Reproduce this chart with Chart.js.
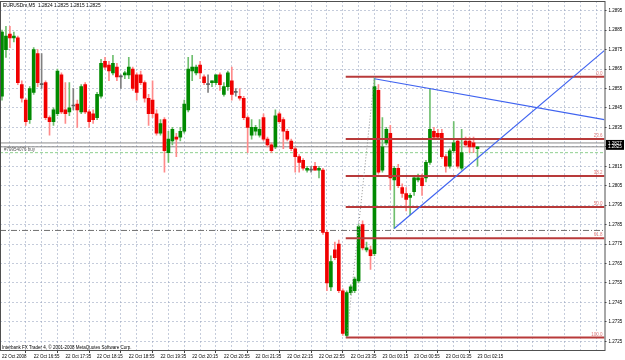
<!DOCTYPE html>
<html><head><meta charset="utf-8">
<script src="https://cdn.jsdelivr.net/npm/chart.js@4.4.0/dist/chart.umd.min.js"></script>
<style>html,body{margin:0;padding:0;background:#fff;}canvas{display:block;}</style>
</head><body>
<canvas id="c" width="625" height="360"></canvas>
<script>
// ---- data (EURUSDm, M5) ----
const opens = [1.2851,1.2875,1.2883,1.2881,1.2881,1.2857,1.2849,1.2839,1.2853,1.2873,
1.2857,1.2858,1.2840,1.2838,1.2842,1.2862,1.2844,1.2843,1.2846,1.2847,
1.2843,1.2857,1.2843,1.2842,1.2840,1.2851,1.2869,1.2867,1.2863,1.2866,
1.2861,1.2862,1.2862,1.2865,1.2862,1.2862,1.2858,1.2850,1.2849,1.2842,
1.2832,1.2839,1.2822,1.2828,1.2830,1.2830,1.2833,1.2844,1.2864,1.2863,
1.2867,1.2861,1.2857,1.2858,1.2858,1.2862,1.2852,1.2856,1.2859,1.2853,
1.2851,1.2850,1.2840,1.2831,1.2833,1.2831,1.2840,1.2829,1.2826,1.2825,
1.2842,1.2839,1.2833,1.2828,1.2824,1.2820,1.2818,1.2813,1.2813,1.2815,
1.2813,1.2813,1.2781,1.2753,1.2772,1.2775,1.2751,1.2728,1.2750,1.2751,
1.2756,1.2785,1.2772,1.2772,1.2770,1.2854,1.2813,1.2827,1.2832,1.2808,
1.2814,1.2804,1.2801,1.2799,1.2802,1.2808,1.2809,1.2809,1.2817,1.2833,
1.2832,1.2832,1.2820,1.2815,1.2823,1.2828,1.2814,1.2828,1.2828,1.2827,1.2824];
const highs = [1.2885,1.2887,1.2887,1.2884,1.2882,1.2859,1.2850,1.2856,1.2876,1.2875,
1.2873,1.2859,1.2841,1.2845,1.2865,1.2863,1.2858,1.2858,1.2855,1.2849,
1.2857,1.2858,1.2844,1.2844,1.2853,1.2870,1.2871,1.2869,1.2872,1.2868,
1.2862,1.2864,1.2871,1.2866,1.2863,1.2864,1.2859,1.2852,1.2859,1.2844,
1.2839,1.2840,1.2833,1.2835,1.2832,1.2835,1.2849,1.2871,1.2872,1.2867,
1.2869,1.2862,1.2862,1.2859,1.2862,1.2863,1.2858,1.2864,1.2866,1.2855,
1.2855,1.2851,1.2841,1.2839,1.2836,1.2839,1.2842,1.2830,1.2827,1.2844,
1.2843,1.2840,1.2834,1.2829,1.2825,1.2821,1.2819,1.2815,1.2815,1.2817,
1.2815,1.2814,1.2782,1.2769,1.2776,1.2777,1.2752,1.2751,1.2754,1.2758,
1.2785,1.2787,1.2776,1.2774,1.2861,1.2857,1.2840,1.2835,1.2836,1.2815,
1.2816,1.2806,1.2804,1.2801,1.2810,1.2811,1.2811,1.2818,1.2855,1.2835,
1.2834,1.2834,1.2821,1.2824,1.2838,1.2829,1.2834,1.2830,1.2830,1.2830,1.2825];
const lows = [1.2849,1.2871,1.2876,1.2879,1.2857,1.2848,1.2836,1.2837,1.2852,1.2856,
1.2855,1.2839,1.2831,1.2836,1.2841,1.2842,1.2837,1.2841,1.2844,1.2835,
1.2842,1.2842,1.2835,1.2837,1.2839,1.2850,1.2865,1.2859,1.2862,1.2859,
1.2855,1.2860,1.2860,1.2854,1.2849,1.2857,1.2848,1.2836,1.2840,1.2831,
1.2831,1.2812,1.2817,1.2826,1.2820,1.2828,1.2832,1.2843,1.2859,1.2862,
1.2860,1.2857,1.2853,1.2856,1.2857,1.2854,1.2851,1.2854,1.2849,1.2851,
1.2849,1.2839,1.2822,1.2829,1.2831,1.2830,1.2828,1.2825,1.2822,1.2824,
1.2837,1.2824,1.2828,1.2823,1.2812,1.2812,1.2813,1.2812,1.2812,1.2813,
1.2809,1.2780,1.2751,1.2751,1.2767,1.2750,1.2728,1.2727,1.2749,1.2750,
1.2755,1.2772,1.2771,1.2762,1.2769,1.2811,1.2812,1.2826,1.2803,1.2783,
1.2804,1.2799,1.2792,1.2790,1.2800,1.2807,1.2800,1.2807,1.2816,1.2829,
1.2829,1.2819,1.2812,1.2814,1.2822,1.2814,1.2813,1.2825,1.2822,1.2822,1.2815];
const closes = [1.2884,1.2882,1.2881,1.2882,1.2858,1.2850,1.2838,1.2855,1.2875,1.2858,
1.2857,1.2840,1.2838,1.2844,1.2864,1.2843,1.2842,1.2845,1.2846,1.2844,
1.2856,1.2843,1.2838,1.2839,1.2852,1.2868,1.2866,1.2864,1.2868,1.2861,
1.2861,1.2863,1.2866,1.2855,1.2853,1.2858,1.2850,1.2842,1.2842,1.2832,
1.2837,1.2823,1.2829,1.2834,1.2829,1.2833,1.2847,1.2865,1.2866,1.2866,
1.2863,1.2858,1.2857,1.2859,1.2862,1.2857,1.2856,1.2863,1.2852,1.2853,
1.2850,1.2840,1.2835,1.2835,1.2835,1.2834,1.2829,1.2826,1.2823,1.2841,
1.2838,1.2833,1.2829,1.2824,1.2820,1.2817,1.2814,1.2814,1.2813,1.2813,
1.2814,1.2781,1.2755,1.2766,1.2768,1.2751,1.2729,1.2750,1.2753,1.2757,
1.2784,1.2773,1.2773,1.2769,1.2856,1.2812,1.2825,1.2834,1.2809,1.2814,
1.2805,1.2801,1.2798,1.2800,1.2809,1.2809,1.2805,1.2817,1.2834,1.2830,
1.2830,1.2820,1.2815,1.2823,1.2827,1.2815,1.2822,1.2826,1.2825,1.2825,1.2825];

const timeLabels = ["22 Oct 2008","22 Oct 16:55","22 Oct 17:35","22 Oct 18:15","22 Oct 18:55",
"22 Oct 19:35","22 Oct 20:15","22 Oct 20:55","22 Oct 21:35","22 Oct 22:15","22 Oct 22:55",
"22 Oct 23:35","23 Oct 00:15","23 Oct 00:55","23 Oct 01:35","23 Oct 02:15"];
const barsPerTimeLabel = 8;
const barsPerGridLine = 4;
const priceTicks = [1.2725,1.2735,1.2745,1.2755,1.2765,1.2775,1.2785,1.2795,1.2805,1.2815,
1.2825,1.2835,1.2845,1.2855,1.2865,1.2875,1.2885,1.2895];

const symbolText = "EURUSDm,M5";
const lastBarOHLC = [1.2824, 1.2825, 1.2815, 1.2825];
const copyrightText = "Interbank FX Trader 4, \u00a9 2001-2008 MetaQuotes Software Corp.";

const bidPrice = 1.2825;
const askPrice = 1.2827;
const orderPrice = 1.2822;
const orderLabel = "#79954076 buy";
const dashDotPrice = 1.2782;

const fibLevels = [1.2861, 1.2829, 1.2810, 1.2794, 1.2778, 1.2727];
const fibNames = ["0.0", "23.6", "38.2", "50.0", "61.8", "100.0"];
const fibStartBar = 87;
const fibTrendBars = [87, 94];
const fibTrendPrices = [1.2727, 1.2861];

const trend1Bars = [94, 152];
const trend1Prices = [1.2860, 1.2839];
const trend2Bars = [99, 152];
const trend2Prices = [1.2783, 1.28745];

const xMin = -0.5, xMax = 152.05;
const yMin = 1.2720, yMax = 1.2900;

// ---- styles ----
const UP = '#008a00', DOWN = '#f00000', DOJI = '#606060';
const UP_W = '#6fbf6f', DOWN_W = '#ff8a8a', DOJI_W = '#808080';
const GRID = 'rgba(150,162,190,0.55)';
const FONT = "'Liberation Sans', Arial, sans-serif";

const dir = opens.map((o, i) => Math.sign(closes[i] - o));
const bodyColors = dir.map(d => d > 0 ? UP : d < 0 ? DOWN : DOJI);
const wickColors = dir.map(d => d > 0 ? UP_W : d < 0 ? DOWN_W : DOJI_W);

const bodies = opens.map((o, i) => ({x: i, y: [Math.min(o, closes[i]), Math.max(o, closes[i])]}));
const wicks = opens.map((o, i) => ({x: i, y: [lows[i], highs[i]]}));

function hLine(price, from, color, width, dash, order) {
  return {type: 'line', data: [{x: from, y: price}, {x: xMax, y: price}], borderColor: color,
    borderWidth: width, borderDash: dash || [], pointRadius: 0, fill: false, tension: 0, order: order};
}
function segLine(bars, prices, color, width, dash, order) {
  return {type: 'line', data: bars.map((b, i) => ({x: b, y: prices[i]})), borderColor: color,
    borderWidth: width, borderDash: dash || [], pointRadius: 0, fill: false, tension: 0, order: order};
}

const datasets = [
  {type: 'bar', data: bodies, backgroundColor: bodyColors, barThickness: 3, minBarLength: 1,
   grouped: false, borderWidth: 0, order: 2},
  {type: 'bar', data: wicks, backgroundColor: wickColors, barThickness: 1,
   grouped: false, borderWidth: 0, order: 3},
  hLine(askPrice, xMin, '#8a8a8a', 1, [], 4),
  hLine(bidPrice, xMin, '#8a8a8a', 1, [], 4),
  hLine(orderPrice, xMin, '#8fd08f', 1, [3, 2], 4),
  hLine(dashDotPrice, xMin, '#707070', 1, [6, 2, 1, 2], 4),
  segLine(fibTrendBars, fibTrendPrices, '#909090', 1, [1, 2], 1),
  segLine(trend1Bars, trend1Prices, '#3f63f0', 1.2, [], 0),
  segLine(trend2Bars, trend2Prices, '#3f63f0', 1.2, [], 0),
];
fibLevels.forEach(p => datasets.push(hLine(p, fibStartBar - 0.25, '#b83a3a', 2, [], 1)));

const overlay = {
  id: 'mt4overlay',
  afterDraw(chart) {
    const {ctx, chartArea: a, scales: {y}} = chart;
    ctx.save();
    ctx.strokeStyle = '#505050';
    ctx.lineWidth = 1;
    ctx.strokeRect(0.5, Math.round(a.top) + 0.5, Math.round(a.right) - 0.5, Math.round(a.bottom - a.top) - 1);
    ctx.font = "4.8px " + FONT;
    ctx.textBaseline = 'middle';
    ctx.fillStyle = '#000';
    ctx.textAlign = 'left';
    ctx.fillText(symbolText + "  " + lastBarOHLC.map(v => v.toFixed(4)).join(" "), 3, 5.5);
    ctx.font = "4.5px " + FONT;
    ctx.fillText(copyrightText, 2, 347.5);
    ctx.fillStyle = '#555';
    ctx.fillText(orderLabel, 4, y.getPixelForValue(orderPrice) - 3);
    ctx.fillStyle = '#e07a7a';
    ctx.textAlign = 'right';
    fibLevels.forEach((p, i) => ctx.fillText(fibNames[i], a.right - 2, y.getPixelForValue(p) - 3));
    const ya = y.getPixelForValue(askPrice), yb = y.getPixelForValue(bidPrice);
    ctx.fillStyle = '#000';
    ctx.fillRect(606, ya - 3, 18, yb - ya + 6);
    ctx.fillStyle = '#fff';
    ctx.textAlign = 'left';
    ctx.fillText(askPrice.toFixed(4), 608, ya + 0.5);
    ctx.fillText(bidPrice.toFixed(4), 608, yb - 0.5);
    ctx.restore();
  }
};

new Chart(document.getElementById('c'), {
  type: 'bar',
  data: {datasets},
  options: {
    responsive: false, animation: false, events: [],
    layout: {padding: {top: 1, left: 0, right: 0, bottom: 0}},
    plugins: {legend: {display: false}, tooltip: {enabled: false}},
    scales: {
      x: {
        type: 'linear', min: xMin, max: xMax, offset: false,
        afterBuildTicks(s) {
          const t = [];
          for (let v = 0; v <= xMax; v += barsPerGridLine) t.push({value: v});
          s.ticks = t;
        },
        afterFit(s) { s.height = 9; s.paddingLeft = 0; s.paddingRight = 0; },
        ticks: {
          autoSkip: false, maxRotation: 0, minRotation: 0, align: 'start', padding: 1,
          color: '#000', font: {family: FONT, size: 4.5},
          callback: v => (v % barsPerTimeLabel === 0 && v / barsPerTimeLabel < timeLabels.length) ? timeLabels[v / barsPerTimeLabel] : ''
        },
        grid: {
          color: c => (c.tick && c.tick.value === 0) ? 'rgba(0,0,0,0)' : GRID,
          lineWidth: 1, tickLength: 2,
          tickColor: c => (c.tick && c.tick.value % barsPerTimeLabel === 0 && c.tick.value / barsPerTimeLabel < timeLabels.length) ? '#444' : 'rgba(0,0,0,0)'
        },
        border: {display: false, dash: [2, 2]}
      },
      y: {
        type: 'linear', position: 'right', min: yMin, max: yMax,
        afterBuildTicks(s) { s.ticks = priceTicks.map(v => ({value: v})); },
        afterFit(s) { s.width = 20.5; s.paddingTop = 0; s.paddingBottom = 0; },
        ticks: {padding: 2, color: '#000', font: {family: FONT, size: 4.5}, callback: v => Number(v).toFixed(4)},
        grid: {color: GRID, lineWidth: 1, tickLength: 2, tickColor: '#444'},
        border: {display: false, dash: [2, 2]}
      }
    }
  },
  plugins: [overlay]
});
</script>
</body></html>
